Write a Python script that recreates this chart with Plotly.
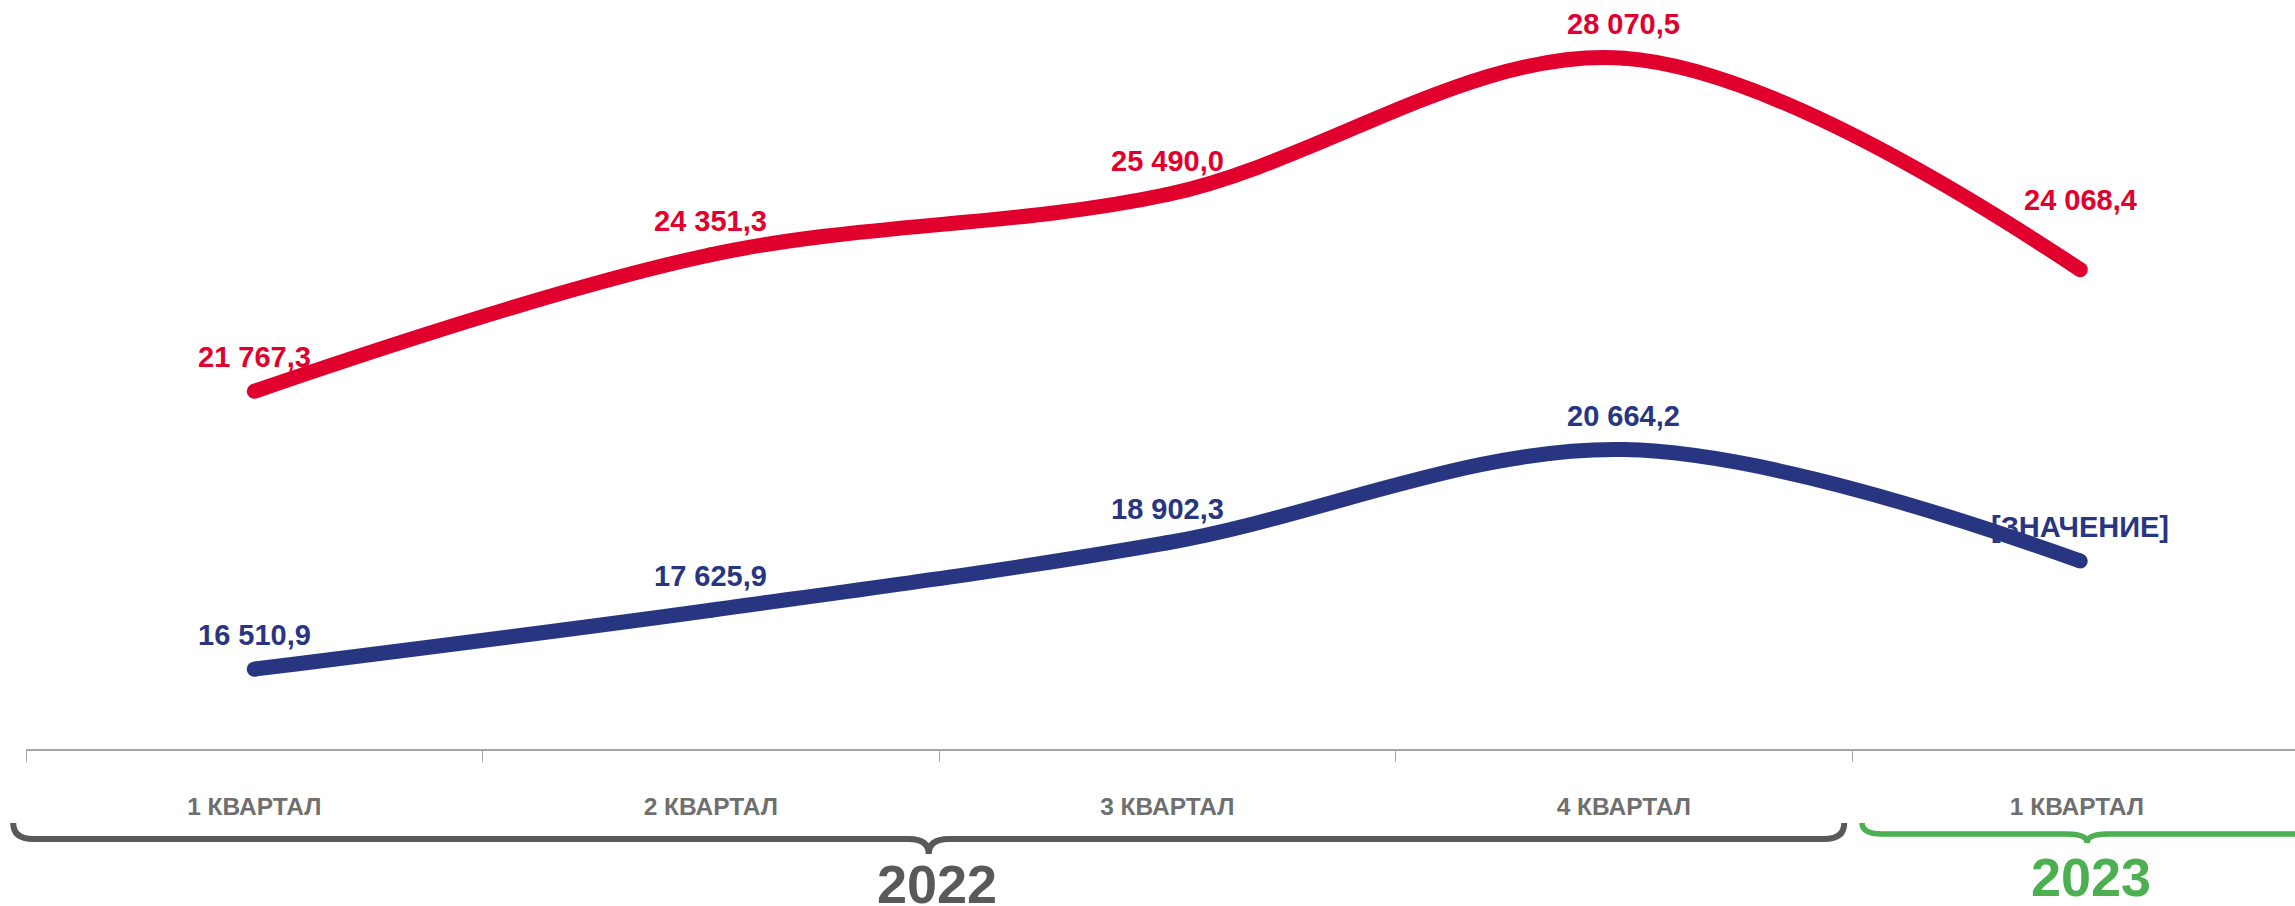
import plotly.graph_objects as go

# ---- data ----
quarters = ["1 КВАРТАЛ", "2 КВАРТАЛ", "3 КВАРТАЛ", "4 КВАРТАЛ", "1 КВАРТАЛ "]
red_values = [21767.3, 24351.3, 25490.0, 28070.5, 24068.4]
blue_values = [16510.9, 17625.9, 18902.3, 20664.2, 18557.0]
red_labels = ["21 767,3", "24 351,3", "25 490,0", "28 070,5", "24 068,4"]
blue_labels = ["16 510,9", "17 625,9", "18 902,3", "20 664,2", "[ЗНАЧЕНИЕ]"]
years = ["2022", "2023"]
year_spans = [(-0.528, 3.483), (3.522, 4.508)]   # in category index units

RED = "#E1002D"
BLUE = "#283682"
GRAY = "#595959"
GREEN = "#4CAF50"
FONT = "Liberation Sans, Arial, sans-serif"

W, H = 2295, 906
ML, MR, MT, MB = 26, 0, 0, 157
PW, PH = W - ML - MR, H - MT - MB
X_RANGE = [-0.5, -0.5 + PW / 456.5]
Y_RANGE = [15000, 15000 + PH / 0.052857]

idx = list(range(len(quarters)))

fig = go.Figure()
for vals, col in [(red_values, RED), (blue_values, BLUE)]:
    fig.add_trace(go.Scatter(
        x=idx, y=vals, mode="lines+markers",
        line=dict(color=col, width=15, shape="spline", smoothing=1.0),
        marker=dict(color=col, size=15),
        hoverinfo="skip", showlegend=False, cliponaxis=False,
    ))

annotations = []
for i, (v, t) in enumerate(zip(red_values, red_labels)):
    annotations.append(dict(x=i, y=v, xref="x", yref="y", text=t, showarrow=False,
                            yanchor="middle", xanchor="center",
                            yshift=70 if i == len(red_values) - 1 else 34,
                            font=dict(family=FONT, size=29, color=RED, weight="bold")))
for i, (v, t) in enumerate(zip(blue_values, blue_labels)):
    annotations.append(dict(x=i, y=v, xref="x", yref="y", text=t, showarrow=False,
                            yanchor="middle", xanchor="center", yshift=34,
                            font=dict(family=FONT, size=29, color=BLUE, weight="bold")))


def px_x(c):
    return (c - X_RANGE[0]) / (X_RANGE[1] - X_RANGE[0])


def py(pix_below_axis):
    return -pix_below_axis / PH


def brace_path(c0, c1, top, base, dip, r=20):
    x0, x1 = px_x(c0), px_x(c1)
    xc = (x0 + x1) / 2
    rx = r / PW
    yt, yb, yd = py(top), py(base), py(dip)
    return (f"M {x0},{yt} Q {x0},{yb} {x0 + rx},{yb} "
            f"L {xc - rx},{yb} Q {xc},{yb} {xc},{yd} "
            f"Q {xc},{yb} {xc + rx},{yb} "
            f"L {x1 - rx},{yb} Q {x1},{yb} {x1},{yt}")


shapes = [
    dict(type="path", xref="paper", yref="paper",
         path=brace_path(year_spans[0][0], year_spans[0][1], 74, 90, 105),
         line=dict(color=GRAY, width=6)),
    dict(type="path", xref="paper", yref="paper",
         path=brace_path(year_spans[1][0], year_spans[1][1], 74, 85, 94),
         line=dict(color=GREEN, width=5.5)),
]

for (c0, c1), yr, col, ypix, dx in [(year_spans[0], years[0], GRAY, 135, 8),
                                     (year_spans[1], years[1], GREEN, 128, 4)]:
    annotations.append(dict(x=px_x((c0 + c1) / 2) + dx / PW,
                            y=py(ypix), xref="paper", yref="paper",
                            text=yr, showarrow=False, xanchor="center", yanchor="middle",
                            font=dict(family=FONT, size=54, color=col, weight="bold")))

fig.update_layout(
    width=W, height=H,
    margin=dict(l=ML, r=MR, t=MT, b=MB, pad=0),
    paper_bgcolor="white", plot_bgcolor="white",
    showlegend=False,
    annotations=annotations, shapes=shapes,
    xaxis=dict(
        type="linear", range=X_RANGE,
        tickmode="array", tickvals=idx, ticktext=quarters,
        ticks="", showgrid=False, zeroline=False,
        showline=True, linecolor="#A6A6A6", linewidth=1.5,
        minor=dict(ticks="outside", tick0=0.5, dtick=1, ticklen=11,
                   tickcolor="#A6A6A6", tickwidth=1, showgrid=False),
        tickfont=dict(family=FONT, size=24.5, color="#6F6F6F", weight="bold"),
        ticklabelstandoff=35,
        fixedrange=True,
    ),
    yaxis=dict(range=Y_RANGE, visible=False, showgrid=False, zeroline=False, fixedrange=True),
)

fig.write_html("out.html", config={"displayModeBar": False},
               post_script="document.body.style.margin='0px';document.body.style.overflow='hidden';")
